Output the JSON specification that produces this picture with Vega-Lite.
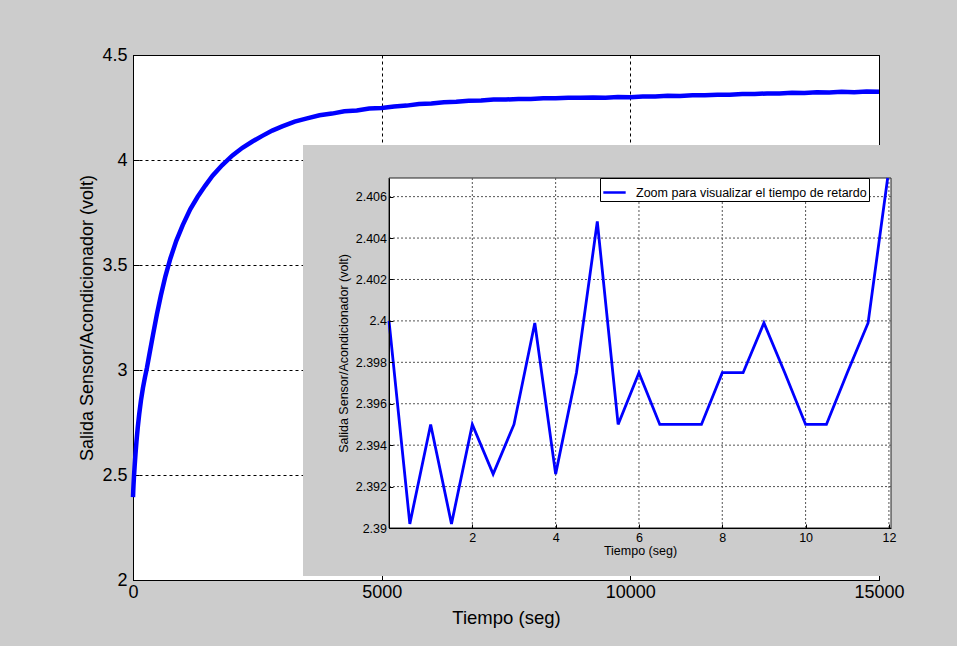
{
  "$schema": "https://vega.github.io/schema/vega-lite/v6.json",
  "autosize": {"type": "none"},
  "width": 746,
  "height": 525,
  "padding": {"left": 133, "top": 55, "right": 78, "bottom": 66},
  "background": "#cccccc",
  "config": {
    "view": {"fill": "white", "stroke": "black", "strokeWidth": 1},
    "font": "Liberation Sans",
    "axis": {
      "labelFont": "Liberation Sans",
      "titleFont": "Liberation Sans",
      "labelColor": "black",
      "titleColor": "black",
      "titleFontWeight": "normal",
      "domainColor": "black",
      "tickColor": "black",
      "labelOverlap": false,
      "labelFlush": false
    }
  },
  "datasets": {
    "main": [
      {"t": 0, "v": 2.395}, {"t": 5, "v": 2.425}, {"t": 10, "v": 2.45}, {"t": 20, "v": 2.495},
      {"t": 35, "v": 2.55}, {"t": 50, "v": 2.6}, {"t": 70, "v": 2.66}, {"t": 95, "v": 2.725},
      {"t": 125, "v": 2.79}, {"t": 160, "v": 2.855}, {"t": 200, "v": 2.915}, {"t": 240, "v": 2.965},
      {"t": 280, "v": 3.01}, {"t": 330, "v": 3.075}, {"t": 400, "v": 3.165}, {"t": 480, "v": 3.265},
      {"t": 560, "v": 3.355}, {"t": 650, "v": 3.445}, {"t": 750, "v": 3.53}, {"t": 870, "v": 3.615},
      {"t": 1000, "v": 3.69}, {"t": 1150, "v": 3.765}, {"t": 1300, "v": 3.825}, {"t": 1450, "v": 3.877},
      {"t": 1600, "v": 3.925}, {"t": 1790, "v": 3.975}, {"t": 2000, "v": 4.022}, {"t": 2200, "v": 4.058},
      {"t": 2400, "v": 4.088}, {"t": 2600, "v": 4.115}, {"t": 2800, "v": 4.14}, {"t": 3000, "v": 4.16},
      {"t": 3250, "v": 4.183}, {"t": 3500, "v": 4.198}, {"t": 3750, "v": 4.213}, {"t": 4000, "v": 4.221},
      {"t": 4250, "v": 4.232}, {"t": 4500, "v": 4.236}, {"t": 4750, "v": 4.245}, {"t": 5000, "v": 4.248},
      {"t": 5250, "v": 4.255}, {"t": 5500, "v": 4.259}, {"t": 5750, "v": 4.267}, {"t": 6000, "v": 4.269},
      {"t": 6250, "v": 4.275}, {"t": 6500, "v": 4.277}, {"t": 6750, "v": 4.282}, {"t": 7000, "v": 4.283},
      {"t": 7250, "v": 4.288}, {"t": 7500, "v": 4.288}, {"t": 7750, "v": 4.291}, {"t": 8000, "v": 4.291},
      {"t": 8250, "v": 4.294}, {"t": 8500, "v": 4.294}, {"t": 8750, "v": 4.297}, {"t": 9000, "v": 4.296},
      {"t": 9250, "v": 4.298}, {"t": 9500, "v": 4.297}, {"t": 9750, "v": 4.3}, {"t": 10000, "v": 4.299},
      {"t": 10250, "v": 4.302}, {"t": 10500, "v": 4.302}, {"t": 10750, "v": 4.306}, {"t": 11000, "v": 4.305},
      {"t": 11250, "v": 4.308}, {"t": 11500, "v": 4.308}, {"t": 11750, "v": 4.311}, {"t": 12000, "v": 4.311},
      {"t": 12250, "v": 4.314}, {"t": 12500, "v": 4.314}, {"t": 12750, "v": 4.317}, {"t": 13000, "v": 4.317},
      {"t": 13250, "v": 4.32}, {"t": 13500, "v": 4.319}, {"t": 13750, "v": 4.323}, {"t": 14000, "v": 4.322},
      {"t": 14250, "v": 4.325}, {"t": 14500, "v": 4.323}, {"t": 14750, "v": 4.326}, {"t": 15000, "v": 4.325}
    ],
    "zoom": [
      {"s": 0, "v": 2.4}, {"s": 0.5, "v": 2.3902}, {"s": 1, "v": 2.395}, {"s": 1.5, "v": 2.3902},
      {"s": 2, "v": 2.395}, {"s": 2.5, "v": 2.3926}, {"s": 3, "v": 2.395}, {"s": 3.5, "v": 2.3999},
      {"s": 4, "v": 2.3926}, {"s": 4.5, "v": 2.3975}, {"s": 5, "v": 2.4048}, {"s": 5.5, "v": 2.395},
      {"s": 6, "v": 2.3975}, {"s": 6.5, "v": 2.395}, {"s": 7, "v": 2.395}, {"s": 7.5, "v": 2.395},
      {"s": 8, "v": 2.3975}, {"s": 8.5, "v": 2.3975}, {"s": 9, "v": 2.3999}, {"s": 9.5, "v": 2.3975},
      {"s": 10, "v": 2.395}, {"s": 10.5, "v": 2.395}, {"s": 11, "v": 2.3975}, {"s": 11.5, "v": 2.3999},
      {"s": 11.97, "v": 2.4069}
    ],
    "gridx": [{"gx": 2}, {"gx": 4}, {"gx": 6}, {"gx": 8}, {"gx": 10}, {"gx": 12}],
    "gridy": [{"gy": 2.392}, {"gy": 2.394}, {"gy": 2.396}, {"gy": 2.398}, {"gy": 2.4}, {"gy": 2.402}, {"gy": 2.404}, {"gy": 2.406}]
  },
  "layer": [
    {
      "data": {"name": "main"},
      "mark": {"type": "line", "color": "#0000ff", "strokeWidth": 4.5},
      "encoding": {
        "x": {
          "field": "t", "type": "quantitative",
          "scale": {"domain": [0, 15000], "nice": false, "zero": false},
          "axis": {
            "orient": "bottom", "values": [0, 5000, 10000, 15000], "format": "d",
            "title": "Tiempo (seg)", "labelFontSize": 18, "titleFontSize": 18.5,
            "grid": true, "gridColor": "black", "gridDash": [3, 3], "gridOpacity": 1, "gridWidth": 1,
            "tickSize": -6, "labelPadding": 9, "titlePadding": 7, "zindex": 0
          }
        },
        "y": {
          "field": "v", "type": "quantitative",
          "scale": {"domain": [2, 4.5], "nice": false, "zero": false},
          "axis": {
            "orient": "left", "values": [2, 2.5, 3, 3.5, 4, 4.5], "format": ".1~f",
            "title": "Salida Sensor/Acondicionador (volt)", "labelFontSize": 18, "titleFontSize": 18,
            "grid": true, "gridColor": "black", "gridDash": [3, 3], "gridOpacity": 1, "gridWidth": 1,
            "tickSize": -6, "labelPadding": 12, "titlePadding": 5, "zindex": 0
          }
        }
      }
    },
    {
      "layer": [
        {
          "data": {"values": [{}]},
          "mark": {"type": "rect", "color": "#cccccc"},
          "encoding": {
            "x": {
              "datum": -2.064, "type": "quantitative",
              "scale": {"domain": [0, 12.05], "range": [256, 758], "nice": false, "zero": false},
              "axis": {
                "orient": "bottom", "offset": -52, "values": [2, 4, 6, 8, 10, 12], "format": "d",
                "title": "Tiempo (seg)", "labelFontSize": 12.5, "titleFontSize": 12.5,
                "grid": false, "tickSize": -4, "labelPadding": 7, "titlePadding": 1, "zindex": 1
              }
            },
            "x2": {"datum": 12.386},
            "y": {
              "datum": 2.387682, "type": "quantitative",
              "scale": {"domain": [2.39, 2.4069], "range": [473, 123], "nice": false, "zero": false},
              "axis": {
                "orient": "left", "offset": -256,
                "values": [2.39, 2.392, 2.394, 2.396, 2.398, 2.4, 2.402, 2.404, 2.406], "format": ".4~f",
                "title": "Salida Sensor/Acondicionador (volt)", "labelFontSize": 12.5, "titleFontSize": 12.5,
                "grid": false, "tickSize": -4, "labelPadding": 6.5, "titlePadding": 5, "zindex": 1
              }
            },
            "y2": {"datum": 2.408494}
          }
        },
        {
          "data": {"values": [{}]},
          "mark": {"type": "rect", "fill": "white", "stroke": "#222222", "strokeWidth": 1},
          "encoding": {
            "x": {"datum": 0, "type": "quantitative"},
            "x2": {"datum": 12.05},
            "y": {"datum": 2.39, "type": "quantitative"},
            "y2": {"datum": 2.4069}
          }
        },
        {
          "data": {"name": "gridx"},
          "mark": {"type": "rule", "color": "#555555", "strokeDash": [2, 2], "strokeWidth": 1},
          "encoding": {
            "x": {"field": "gx", "type": "quantitative"},
            "y": {"datum": 2.39, "type": "quantitative"},
            "y2": {"datum": 2.4069}
          }
        },
        {
          "data": {"name": "gridy"},
          "mark": {"type": "rule", "color": "#555555", "strokeDash": [2, 2], "strokeWidth": 1},
          "encoding": {
            "y": {"field": "gy", "type": "quantitative"},
            "x": {"datum": 0, "type": "quantitative"},
            "x2": {"datum": 12.05}
          }
        },
        {
          "data": {"name": "zoom"},
          "mark": {"type": "line", "strokeWidth": 2.8},
          "encoding": {
            "x": {"field": "s", "type": "quantitative"},
            "y": {"field": "v", "type": "quantitative"},
            "color": {
              "datum": "Zoom para visualizar el tiempo de retardo", "type": "nominal",
              "scale": {"range": ["#0000ff"]},
              "legend": {
                "orient": "none", "legendX": 467, "legendY": 123, "title": null,
                "symbolType": "stroke", "symbolStrokeWidth": 2.5, "symbolSize": 500,
                "labelFont": "Liberation Sans", "labelFontSize": 12.5, "labelColor": "black",
                "labelLimit": 400, "labelOffset": 9, "strokeColor": "black", "fillColor": "white",
                "padding": 2, "zindex": 1
              }
            }
          }
        }
      ]
    }
  ],
  "resolve": {"scale": {"x": "independent", "y": "independent", "color": "independent"}}
}
